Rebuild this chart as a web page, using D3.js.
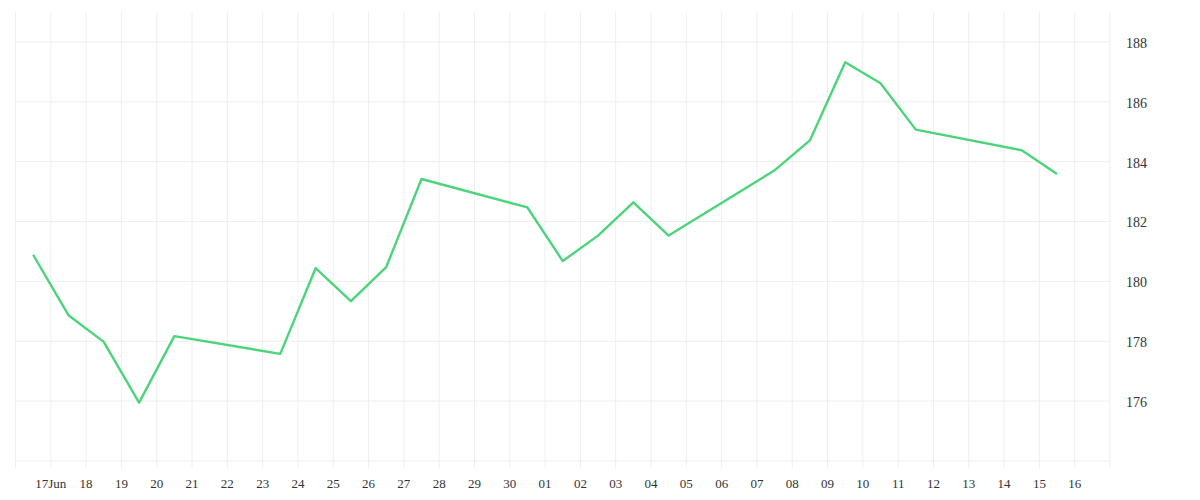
<!DOCTYPE html>
<html lang="en">
<head>
  <meta charset="UTF-8">
  <title>Price</title>
  <script src="https://cdn.jsdelivr.net/npm/d3@7"></script>
  <style>
    body { margin: 0; background: #fff; }
    text { font-family: "Liberation Serif", serif; font-size: 13px; fill: #333; }
    .y-label text { font-size: 14px; }
  </style>
</head>
<body>
  <div id="container"></div>
  <script>
    const width = 1200;
    const height = 500;

    // data (trading days, 2014)
    const dates = ["2014-06-16", "2014-06-17", "2014-06-18", "2014-06-19", "2014-06-20",
      "2014-06-23", "2014-06-24", "2014-06-25", "2014-06-26", "2014-06-27",
      "2014-06-30", "2014-07-01", "2014-07-02", "2014-07-03", "2014-07-04",
      "2014-07-07", "2014-07-08", "2014-07-09", "2014-07-10", "2014-07-11",
      "2014-07-14", "2014-07-15"];
    const prices = [180.89, 178.87, 177.98, 175.95, 178.17,
      177.58, 180.44, 179.34, 180.48, 183.42,
      182.47, 180.68, 181.53, 182.64, 181.53,
      183.71, 184.71, 187.32, 186.62, 185.07,
      184.38, 183.59];
    const yTicks = [176, 178, 180, 182, 184, 186, 188];
    const yGrid = [174, 176, 178, 180, 182, 184, 186, 188];

    const parse = d3.utcParse("%Y-%m-%d");
    const data = dates.map(function (d, i) {
      return { date: d3.utcHour.offset(parse(d), 12), value: prices[i] };
    });

    const plot = { left: 15.5, right: 1110, top: 12, bottom: 461 };

    const x = d3.scaleUtc()
      .domain([parse("2014-06-16"), parse("2014-07-17")])
      .range([plot.left, plot.right]);

    const y = d3.scaleLinear()
      .domain([174, 189])
      .range([plot.bottom, plot.top]);

    const svg = d3.select("#container")
      .append("svg")
      .attr("width", width)
      .attr("height", height);

    // vertical grid, one per day
    const days = d3.utcDay.range(x.domain()[0], d3.utcDay.offset(x.domain()[1], 1));
    svg.append("g")
      .selectAll("line")
      .data(days)
      .enter()
      .append("line")
      .attr("x1", function (d) { return x(d); })
      .attr("x2", function (d) { return x(d); })
      .attr("y1", plot.top)
      .attr("y2", 468)
      .attr("stroke", "#efefef")
      .attr("stroke-width", 1);

    // horizontal grid
    svg.append("g")
      .selectAll("line")
      .data(yGrid)
      .enter()
      .append("line")
      .attr("x1", plot.left)
      .attr("x2", plot.right)
      .attr("y1", function (d) { return y(d); })
      .attr("y2", function (d) { return y(d); })
      .attr("stroke", "#efefef")
      .attr("stroke-width", 1);

    // x labels (skip the two edge days)
    const fmtDay = d3.utcFormat("%d");
    const labelDays = days.slice(1, days.length - 1);
    svg.append("g")
      .selectAll("text")
      .data(labelDays)
      .enter()
      .append("text")
      .attr("x", function (d) { return x(d); })
      .attr("y", 488)
      .attr("text-anchor", "middle")
      .text(function (d, i) {
        return i === 0 ? fmtDay(d) + "Jun" : fmtDay(d);
      });

    // y labels on the right
    svg.append("g")
      .attr("class", "y-label")
      .selectAll("text")
      .data(yTicks)
      .enter()
      .append("text")
      .attr("x", 1126)
      .attr("y", function (d) { return y(d); })
      .attr("dy", "0.42em")
      .text(function (d) { return d; });

    // price line
    const line = d3.line()
      .x(function (d) { return x(d.date); })
      .y(function (d) { return y(d.value); });

    svg.append("path")
      .datum(data)
      .attr("d", line)
      .attr("fill", "none")
      .attr("stroke", "#4cd47a")
      .attr("stroke-width", 2.4)
      .attr("stroke-linejoin", "round");
  </script>
</body>
</html>
